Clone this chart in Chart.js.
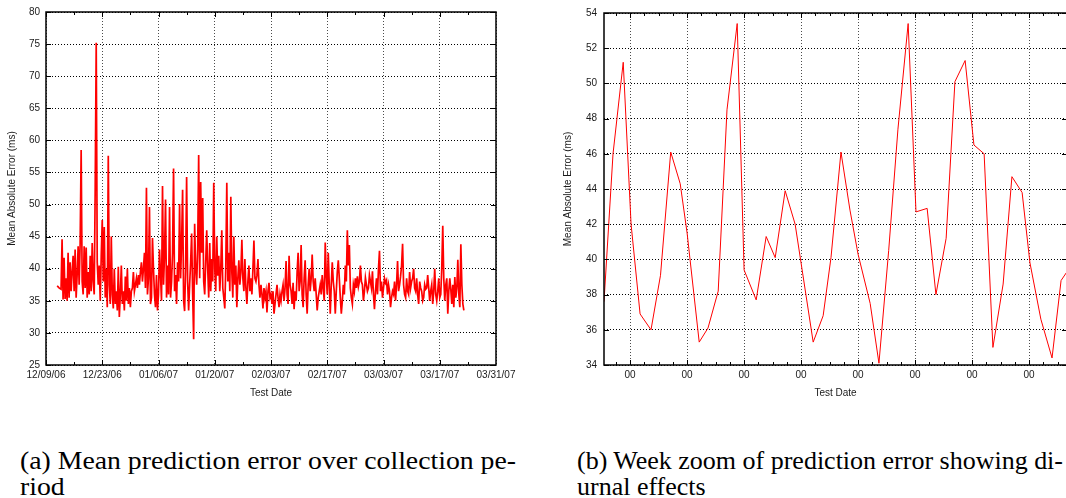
<!DOCTYPE html>
<html>
<head>
<meta charset="utf-8">
<script src="https://cdn.jsdelivr.net/npm/chart.js"></script>
<style>
html,body{margin:0;padding:0;background:#fff;width:1066px;height:498px;overflow:hidden;position:relative}
#wa{position:absolute;left:0;top:0;width:533px;height:405px}
#wb{position:absolute;left:540px;top:0;width:560px;height:405px}
.cap{position:absolute;font-family:'Liberation Serif','Times New Roman',serif;font-size:26px;line-height:26px;color:#000;white-space:nowrap;transform-origin:0 0}
</style>
</head>
<body>
<div id="wa"><canvas id="ca" width="533" height="405"></canvas></div>
<div id="wb"><canvas id="cb" width="560" height="405"></canvas></div>
<div class="cap" id="capa" style="left:20px;top:448px"><span id="capa1">(a) Mean prediction error over collection pe-</span><br><span>riod</span></div>
<div class="cap" id="capb" style="left:577px;top:448px"><span id="capb1">(b) Week zoom of prediction error showing di-</span><br><span>urnal effects</span></div>
<script>
// ---- Data: full collection period (days after 12/09/06, one sample every 6 h) ----
const collectionStartDay = 2.75;
const sampleStepDays = 0.25;
const meanErrorMs = [
  37.3,
  37.2, 37.0, 36.9, 36.8,
  44.6, 35.2, 41.7, 35.3,
  38.5, 35.0, 42.5, 35.5,
  41.0, 36.5, 39.5, 42.0,
  36.5, 43.0, 35.5, 39.0,
  43.5, 37.5, 44.0, 58.5,
  38.0, 36.0, 43.5, 37.0,
  43.3, 35.5, 39.5, 36.0,
  42.0, 36.5, 44.0, 38.0,
  36.0, 52.9, 75.2, 41.0,
  37.5, 40.5, 35.0, 42.0,
  47.6, 38.0, 46.5, 35.5,
  40.0, 34.0, 57.6, 37.5,
  34.5, 45.0, 36.0, 33.8,
  40.0, 34.5, 36.5, 33.5,
  40.3, 32.5, 36.0, 40.5,
  34.5, 36.5, 33.5, 38.8,
  35.0, 40.0, 34.5, 37.0,
  34.0, 36.5, 37.0, 39.5,
  36.5, 37.5, 38.5, 37.0,
  39.0, 37.5, 39.5, 41.0,
  38.0, 40.0, 42.5, 37.0,
  52.6, 36.0, 38.5, 49.6,
  34.5, 35.5, 44.8, 40.0,
  36.0, 34.0, 39.0, 33.5,
  36.0, 43.0, 39.0, 35.0,
  52.9, 37.5, 42.0, 50.8,
  35.5, 40.5, 36.0, 49.6,
  35.5, 38.0, 42.5, 55.6,
  36.5, 39.0, 34.5, 41.0,
  38.0, 50.1, 38.5, 44.0,
  52.3, 35.0, 33.4, 40.0,
  54.3, 38.0, 33.5, 37.5,
  41.0, 45.5, 36.0, 29.0,
  47.0, 40.0, 37.5, 43.0,
  57.7, 38.5, 53.5, 42.5,
  51.0, 38.0, 36.0, 41.0,
  46.0, 40.0, 35.5, 44.0,
  36.5, 41.5, 38.0, 53.4,
  40.0, 36.5, 45.0, 38.9,
  42.0, 36.5, 40.0, 46.0,
  37.0, 35.5, 33.8, 40.5,
  53.4, 38.0, 42.5, 36.5,
  51.2, 39.5, 35.5, 45.0,
  37.5, 40.5, 34.0, 38.5,
  41.3, 37.5, 39.5, 44.5,
  38.5, 36.5, 41.5, 37.0,
  34.5, 38.0, 40.5, 36.5,
  38.5, 36.0, 40.0, 44.4,
  38.5, 38.0, 39.0, 41.5,
  37.5, 35.5, 37.5, 36.0,
  33.8, 37.0, 35.5, 36.5,
  33.2, 36.5, 37.8, 35.5,
  36.0, 34.5, 36.5, 33.0,
  34.5, 36.0, 37.5, 35.5,
  34.0, 36.0, 35.0, 36.5,
  37.5, 35.0, 37.0, 41.2,
  36.0, 34.5, 42.0, 37.5,
  36.5, 34.5, 37.8, 33.7,
  36.5, 35.0, 39.5, 42.5,
  36.5, 38.0, 43.7, 36.0,
  34.0, 38.5, 41.3, 36.0,
  33.0, 37.5, 40.0, 36.5,
  38.5, 42.2, 38.0, 36.5,
  38.5, 36.0, 33.5, 35.5,
  36.5, 37.5, 36.0, 39.0,
  37.0, 35.0, 44.1, 39.0,
  36.0, 42.5, 37.5, 33.0,
  37.5, 41.0, 38.0, 36.5,
  33.0, 36.5, 39.5, 41.3,
  38.5, 35.5, 33.0, 35.0,
  37.5, 36.0, 40.5, 38.0,
  46.0, 40.5, 43.7, 37.0,
  35.5, 34.5, 37.5, 36.5,
  38.5, 37.0, 38.8, 37.2,
  38.0, 40.5, 38.0, 37.5,
  35.0, 36.5, 38.6, 37.5,
  36.5, 37.0, 39.0, 38.0,
  37.0, 39.6, 36.0, 33.7,
  36.5, 38.5, 36.0, 40.0,
  42.8, 36.5, 38.0, 35.5,
  37.0, 38.5, 37.8, 38.2,
  36.0, 37.5, 36.5, 34.0,
  35.5, 36.5, 36.0, 38.0,
  35.0, 37.5, 41.2, 36.5,
  37.5, 38.8, 40.5, 43.9,
  37.5, 36.0, 35.5, 38.5,
  36.5, 36.0, 39.5, 37.0,
  38.0, 38.5, 40.0, 37.0,
  36.5, 38.5, 36.0, 34.5,
  38.0, 37.0, 36.5, 35.0,
  35.5, 37.5, 36.8, 37.0,
  39.0, 37.0, 35.0, 36.5,
  37.5, 34.5, 36.5, 40.0,
  36.0, 35.0, 36.5, 38.5,
  35.5, 36.0, 40.0, 46.7,
  38.5, 35.0, 37.5, 38.5,
  33.0, 36.5, 38.5, 36.8,
  34.5, 37.5, 34.0, 38.7,
  35.5, 37.0, 41.4, 36.0,
  34.0, 43.8, 37.5, 34.5,
  33.5
];
const dateTickLabels = ['12/09/06','12/23/06','01/06/07','01/20/07','02/03/07','02/17/07','03/03/07','03/17/07','03/31/07'];

// ---- Data: one-week zoom (hours relative to the first midnight shown) ----
const weekHours = [-11, -7.2, -2.9, 0.4, 4.2, 8.8, 12.8, 17.1, 21.1, 24.0, 29.1, 32.8, 37.1, 40.8, 45.1, 48.0,
  53.1, 57.3, 61.1, 65.3, 69.5, 77.1, 81.3, 84.6, 88.8, 92.6, 96.0, 101.1, 104.8, 108.9, 112.8, 117.1,
  120.4, 125.1, 128.8, 133.1, 136.8, 141.1, 144.8, 149.1, 152.8, 157.1, 160.8, 165.1, 168.4, 173.0, 177.7, 181.5, 184];
const weekErrorMs = [37.6, 46.0, 51.2, 42.0, 36.9, 36.0, 39.1, 46.1, 44.3, 41.5, 35.3, 36.1, 38.2, 48.5, 53.4, 39.4,
  37.7, 41.3, 40.1, 43.9, 42.0, 35.3, 36.8, 40.1, 46.1, 42.8, 40.3, 37.5, 34.1, 40.5, 47.4, 53.4,
  42.7, 42.9, 38.0, 41.2, 50.1, 51.3, 46.5, 46.0, 35.0, 38.6, 44.7, 43.8, 39.8, 36.6, 34.4, 38.8, 39.3];
const hourTickLabel = '00';

// ---- Plugin: gnuplot-like frame with inward ticks on all four sides ----
const frameTicks = {
  id: 'frameTicks',
  afterDatasetsDraw(chart, args, o) {
    const {ctx, chartArea: a, scales: {x, y}} = chart;
    ctx.save();
    ctx.strokeStyle = '#000';
    ctx.lineWidth = 1;
    ctx.beginPath();
    const isMajor = (v, m) => Math.abs(v / m - Math.round(v / m)) < 1e-6;
    for (let v = Math.ceil(x.min / o.xMinor) * o.xMinor; v <= x.max + 1e-9; v += o.xMinor) {
      const p = Math.round(x.getPixelForValue(v)) + 0.5;
      if (p < a.left || p > a.right) continue;
      const len = isMajor(v, o.xMajor) ? 5 : 3;
      ctx.moveTo(p, a.bottom); ctx.lineTo(p, a.bottom - len);
      ctx.moveTo(p, a.top); ctx.lineTo(p, a.top + len);
    }
    for (let v = Math.ceil(y.min / o.yStep) * o.yStep; v <= y.max + 1e-9; v += o.yStep) {
      const p = Math.round(y.getPixelForValue(v)) + 0.5;
      ctx.moveTo(a.left, p); ctx.lineTo(a.left + 5, p);
      ctx.moveTo(a.right, p); ctx.lineTo(a.right - 5, p);
    }
    ctx.stroke();
    ctx.lineWidth = 1.5;
    ctx.strokeRect(a.left, a.top, a.right - a.left, a.bottom - a.top);
    ctx.restore();
  }
};

const tickFont = {family: "'Liberation Sans', Arial, Helvetica, sans-serif", size: 10};
const textColor = '#1a1a1a';
const hGrid = '#000000';
const vGrid = 'rgba(0,0,0,0.7)';

function baseOptions(extra) {
  return Object.assign({
    responsive: false,
    animation: false,
    devicePixelRatio: 1,
    events: [],
  }, extra);
}

// ---- Chart (a) ----
new Chart(document.getElementById('ca'), {
  type: 'line',
  data: {
    datasets: [{
      data: meanErrorMs.map((v, i) => ({x: collectionStartDay + i * sampleStepDays, y: v})),
      borderColor: '#ff0000',
      borderWidth: 1.7,
      pointRadius: 0,
      tension: 0,
      fill: false
    }]
  },
  options: baseOptions({
    layout: {padding: {top: 9, right: 37, left: 0, bottom: 0}},
    plugins: {
      legend: {display: false},
      tooltip: {enabled: false},
      frameTicks: {xMinor: 7, xMajor: 14, yStep: 5}
    },
    scales: {
      x: {
        type: 'linear', min: 0, max: 112,
        afterFit: s => { s.height = 40; },
        ticks: {stepSize: 14, autoSkip: false, maxRotation: 0, minRotation: 0, padding: 4, font: tickFont, color: textColor,
          callback: v => dateTickLabels[Math.round(v / 14)] ?? ''},
        grid: {color: vGrid, lineWidth: 1, drawTicks: false},
        border: {display: false, dash: [1, 2]},
        title: {display: true, text: 'Test Date', font: tickFont, color: textColor, padding: {top: 0, bottom: 6}}
      },
      y: {
        type: 'linear', min: 25, max: 80,
        afterFit: s => { s.width = 46; },
        ticks: {stepSize: 5, padding: 6, font: tickFont, color: textColor},
        grid: {color: hGrid, lineWidth: 1, drawTicks: false},
        border: {display: false, dash: [1, 2]},
        title: {display: true, text: 'Mean Absolute Error (ms)', font: tickFont, color: textColor, padding: {top: 6, bottom: 0}}
      }
    }
  }),
  plugins: [frameTicks]
});

// ---- Chart (b) ----
new Chart(document.getElementById('cb'), {
  type: 'line',
  data: {
    datasets: [{
      data: weekHours.map((h, i) => ({x: h, y: weekErrorMs[i]})),
      borderColor: '#ff0000',
      borderWidth: 1,
      pointRadius: 0,
      tension: 0,
      fill: false
    }]
  },
  options: baseOptions({
    layout: {padding: {top: 9, right: 33, left: 0, bottom: 0}},
    plugins: {
      legend: {display: false},
      tooltip: {enabled: false},
      frameTicks: {xMinor: 6, xMajor: 24, yStep: 2}
    },
    scales: {
      x: {
        type: 'linear', min: -11, max: 184,
        afterFit: s => { s.height = 40; },
        ticks: {stepSize: 24, includeBounds: false, autoSkip: false, maxRotation: 0, minRotation: 0, padding: 4, font: tickFont, color: textColor,
          callback: () => hourTickLabel},
        grid: {color: vGrid, lineWidth: 1, drawTicks: false},
        border: {display: false, dash: [1, 2]},
        title: {display: true, text: 'Test Date', font: tickFont, color: textColor, padding: {top: 0, bottom: 6}}
      },
      y: {
        type: 'linear', min: 34, max: 54,
        afterFit: s => { s.width = 64; },
        ticks: {stepSize: 2, padding: 7, font: tickFont, color: textColor},
        grid: {color: hGrid, lineWidth: 1, drawTicks: false},
        border: {display: false, dash: [1, 2]},
        title: {display: true, text: 'Mean Absolute Error (ms)', font: tickFont, color: textColor, padding: {top: 22, bottom: 0}}
      }
    }
  }),
  plugins: [frameTicks]
});

// ---- Captions: stretch glyphs to the reference line widths ----
function fitCaption(boxId, lineId, targetWidth) {
  const w = document.getElementById(lineId).getBoundingClientRect().width;
  if (w > 0) document.getElementById(boxId).style.transform = 'scaleX(' + (targetWidth / w) + ')';
}
fitCaption('capa', 'capa1', 496);
fitCaption('capb', 'capb1', 486);
</script>
</body>
</html>
